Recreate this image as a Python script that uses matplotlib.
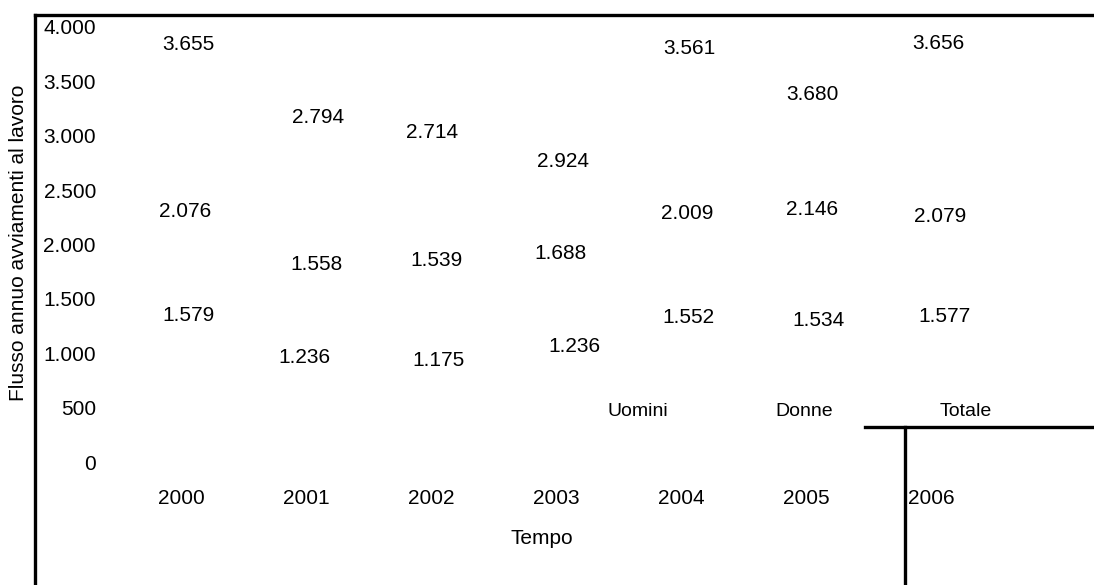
# chart of the yearly flow of job starts, by sex
import matplotlib
matplotlib.use('Agg')
import matplotlib.pyplot as plt
from matplotlib.lines import Line2D

# the data
anni = ['2000', '2001', '2002', '2003', '2004', '2005', '2006']
uomini = [1579, 1236, 1175, 1236, 1552, 1534, 1577]
donne = [2076, 1558, 1539, 1688, 2009, 2146, 2079]
totale = [3655, 2794, 2714, 2924, 3561, 3680, 3656]
serie_nomi = ['Uomini', 'Donne', 'Totale']
y_ticks = [0, 500, 1000, 1500, 2000, 2500, 3000, 3500, 4000]
y_tick_labels = ['0', '500', '1.000', '1.500', '2.000', '2.500', '3.000', '3.500', '4.000']

# where the value labels sit relative to their value (pixels, x right / y up)
nudge_uomini = [(7, -25), (-2, -30), (7, -26), (18, -19), (7, -24), (12, -25), (13, -26)]
nudge_donne = [(4, 25), (11, 28), (6, 34), (4, 25), (6, 30), (6, 19), (9, 19)]
nudge_totale = [(7, 20), (12, 41), (1, 34), (7, -17), (8, 26), (6, -33), (7, 21)]


def fmt(v):
    # italian thousands separator
    return '{:,}'.format(v).replace(',', '.')


def main():
    plt.rcParams['font.family'] = ['Liberation Sans', 'DejaVu Sans']
    W, H = 1094, 585
    fig = plt.figure(figsize=(W / 100, H / 100), dpi=100)
    fig.patch.set_facecolor('white')

    # axes placed so that 0 and 4.000 land where the reference puts them
    ax = fig.add_axes([104 / W, (H - 462) / H, 990 / W, 435 / H])
    ax.set_ylim(0, 4000)
    ax.set_xlim((104 - 181) / 125, (1094 - 181) / 125)
    for s in ax.spines.values():
        s.set_visible(False)
    ax.patch.set_alpha(0)

    x = list(range(len(anni)))
    ax.set_xticks(x)
    ax.set_xticklabels(anni, fontsize=15)
    ax.set_yticks(y_ticks)
    ax.set_yticklabels(y_tick_labels, fontsize=15)
    ax.tick_params(axis='x', length=0, pad=19.5)
    ax.tick_params(axis='y', length=0, pad=5.8)

    # value labels (the bars themselves are missing in the reference)
    for vals, nudges in [(uomini, nudge_uomini), (donne, nudge_donne), (totale, nudge_totale)]:
        for xi, v, (dx, dy) in zip(x, vals, nudges):
            ax.annotate(fmt(v), xy=(xi, v), xytext=(dx, dy), textcoords='offset pixels',
                        ha='center', va='center', fontsize=15, color='black',
                        annotation_clip=False)

    # axis titles
    fig.text(542 / W, 1 - 538 / H, 'Tempo', ha='center', va='center', fontsize=15)
    fig.text(19 / W, 1 - 243 / H, 'Flusso annuo avviamenti al lavoro', rotation=90,
             ha='center', va='center', fontsize=15)

    # legend entries, text only
    for nome, lx in zip(serie_nomi, [638, 804, 966]):
        fig.text(lx / W, 1 - 411 / H, nome, ha='center', va='center', fontsize=14)

    # the thick frame lines
    lw = 2.4
    fig.add_artist(Line2D([35 / W, 1], [1 - 15 / H, 1 - 15 / H], lw=lw, color='black'))
    fig.add_artist(Line2D([35 / W, 35 / W], [1 - 15 / H, 0], lw=lw, color='black'))
    fig.add_artist(Line2D([865 / W, 1], [1 - 427 / H, 1 - 427 / H], lw=lw, color='black'))
    fig.add_artist(Line2D([905 / W, 905 / W], [1 - 427 / H, 0], lw=lw, color='black'))

    fig.savefig('out.png', dpi=100, facecolor='white')


if __name__ == '__main__':
    main()
